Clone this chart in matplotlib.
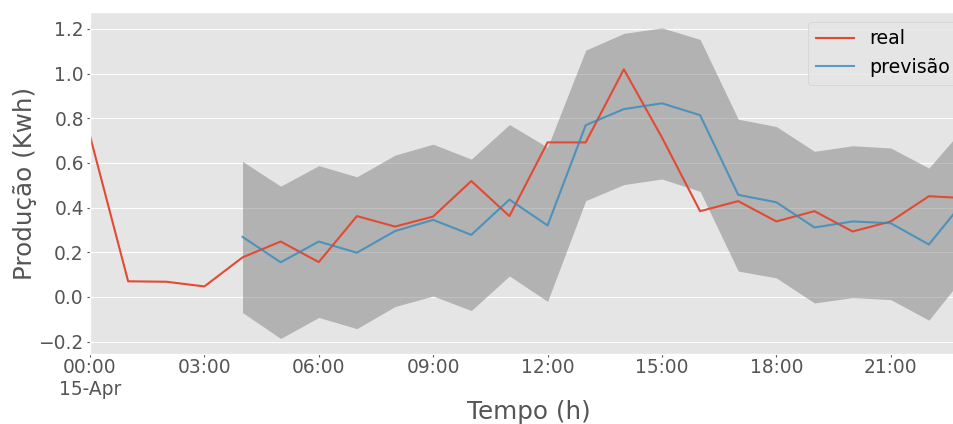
import matplotlib
matplotlib.use("Agg")
import matplotlib.pyplot as plt
import pandas as pd

plt.style.use("ggplot")

hours_real = list(range(24))
real = [0.721, 0.070, 0.068, 0.047, 0.177, 0.248, 0.156, 0.362, 0.315, 0.360,
        0.519, 0.362, 0.692, 0.692, 1.019, 0.714, 0.384, 0.429, 0.338, 0.384,
        0.293, 0.338, 0.451, 0.442]

hours_prev = list(range(4, 24))
previsao = [0.269, 0.155, 0.248, 0.198, 0.295, 0.345, 0.278, 0.436, 0.320, 0.769,
            0.841, 0.867, 0.814, 0.457, 0.424, 0.311, 0.338, 0.330, 0.235, 0.445]
upper = [0.607, 0.496, 0.588, 0.538, 0.635, 0.684, 0.617, 0.772, 0.670, 1.105,
         1.180, 1.205, 1.153, 0.796, 0.763, 0.652, 0.677, 0.667, 0.577, 0.774]
lower = [-0.070, -0.186, -0.092, -0.142, -0.043, 0.004, -0.061, 0.094, -0.020, 0.431,
         0.503, 0.528, 0.473, 0.116, 0.085, -0.027, -0.003, -0.012, -0.104, 0.110]

tick_hours = [0, 3, 6, 9, 12, 15, 18, 21]
tick_labels = ["00:00\n15-Apr", "03:00", "06:00", "09:00", "12:00", "15:00", "18:00", "21:00"]

base = pd.Timestamp("2019-04-15")
t_real = [base + pd.Timedelta(hours=h) for h in hours_real]
t_prev = [base + pd.Timedelta(hours=h) for h in hours_prev]
t_ticks = [base + pd.Timedelta(hours=h) for h in tick_hours]

fig = plt.figure(figsize=(9.54, 4.24), dpi=100)
ax = fig.add_axes([90 / 954, 70 / 424, 877 / 954, (354 - 12.3) / 424])

ax.fill_between(t_prev, lower, upper, color="gray", alpha=0.5, linewidth=0)
ax.plot(t_real, real, color="#E24A33", linewidth=1.5, label="real")
ax.plot(t_prev, previsao, color="#348ABD", linewidth=1.5, alpha=0.8, label="previsão")

ax.set_xlim(t_real[0], t_real[-1])
ax.set_xticks(t_ticks)
ax.set_xticklabels(tick_labels)
ax.grid(False, axis="x")
ax.tick_params(axis="both", labelsize=13.4, length=2)
ax.tick_params(axis="x", pad=0.8)
ax.tick_params(axis="y", pad=2.5)
ax.set_xlabel("Tempo (h)", fontsize=17.7, color="#555555", labelpad=0.5)
ax.set_ylabel("Produção (Kwh)", fontsize=17.7, color="#555555", labelpad=1)
ax.legend(loc="upper right", fontsize=13.7)

fig.savefig("out.png", dpi=100)
